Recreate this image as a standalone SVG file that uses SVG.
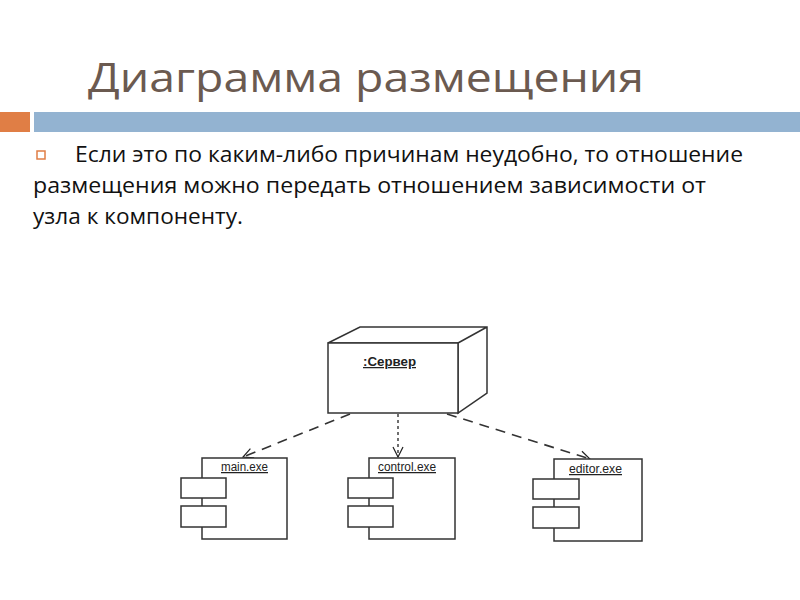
<svg xmlns="http://www.w3.org/2000/svg" width="800" height="600" viewBox="0 0 800 600">
<defs>
<marker id="open" viewBox="0 0 12 12" refX="11" refY="6" markerWidth="12" markerHeight="12" markerUnits="userSpaceOnUse" orient="auto">
<path d="M1,1 L11,6 L1,11" fill="none" stroke="#222" stroke-width="1.2"/>
</marker>
<style>
.title{font-family:"Open Sans","Noto Sans","DejaVu Sans",sans-serif;font-size:40px;fill:#6B5A50}
.body{font-family:"Open Sans","Noto Sans","DejaVu Sans",sans-serif;font-size:21px;fill:#111}
.lbl{font-family:"Liberation Sans",Arial,sans-serif;font-size:12.5px;fill:#222;text-decoration:underline}
.shape{fill:#fff;stroke:#333;stroke-width:1.5}
.dash{fill:none;stroke:#333;stroke-width:1.6;stroke-dasharray:10,7}
.dot{fill:none;stroke:#333;stroke-width:1.4;stroke-dasharray:3,3}
</style>
</defs>
<rect width="800" height="600" fill="#fff"/>
<text class="title" x="88" y="92" textLength="556" lengthAdjust="spacingAndGlyphs">Диаграмма размещения</text>
<rect x="0" y="112" width="30" height="20" fill="#E07E45"/>
<rect x="34" y="112" width="766" height="20" fill="#93B3D1"/>
<rect x="37" y="151" width="8" height="8" fill="none" stroke="#E07E45" stroke-width="1.5"/>
<text class="body" x="75" y="162" textLength="668" lengthAdjust="spacingAndGlyphs">Если это по каким-либо причинам неудобно, то отношение</text>
<text class="body" x="33" y="193" textLength="673" lengthAdjust="spacingAndGlyphs">размещения можно передать отношением зависимости от</text>
<text class="body" x="33" y="224" textLength="210" lengthAdjust="spacingAndGlyphs">узла к компоненту.</text>

<g id="connectors">
<line class="dash" x1="350" y1="414" x2="243" y2="457" marker-end="url(#open)"/>
<line class="dot" x1="398" y1="414" x2="398" y2="457" marker-end="url(#open)"/>
<line class="dash" x1="447" y1="414" x2="590" y2="459" marker-end="url(#open)"/>
</g>

<g id="server">
<path class="shape" d="M328,343 L360,327 L487,327 L487,393 L458,413 L458,343 Z M458,343 L487,327"/>
<rect class="shape" x="328" y="343" width="130" height="70"/>
<text class="lbl" x="363" y="366" font-weight="bold" textLength="53" lengthAdjust="spacingAndGlyphs">:Сервер</text>
</g>

<g id="main">
<rect class="shape" x="202" y="458" width="85" height="81"/>
<rect class="shape" x="181" y="478" width="45" height="20"/>
<rect class="shape" x="181" y="506" width="45" height="21"/>
<text class="lbl" x="221" y="471" textLength="47" lengthAdjust="spacingAndGlyphs">main.exe</text>
</g>

<g id="control">
<rect class="shape" x="369" y="458" width="86" height="81"/>
<rect class="shape" x="348" y="478" width="45" height="20"/>
<rect class="shape" x="348" y="506" width="45" height="21"/>
<text class="lbl" x="378" y="471" textLength="58" lengthAdjust="spacingAndGlyphs">control.exe</text>
</g>

<g id="editor">
<rect class="shape" x="554" y="459" width="88" height="82"/>
<rect class="shape" x="533" y="479" width="46" height="20"/>
<rect class="shape" x="533" y="507" width="46" height="21"/>
<text class="lbl" x="569" y="473" textLength="53" lengthAdjust="spacingAndGlyphs">editor.exe</text>
</g>
</svg>
